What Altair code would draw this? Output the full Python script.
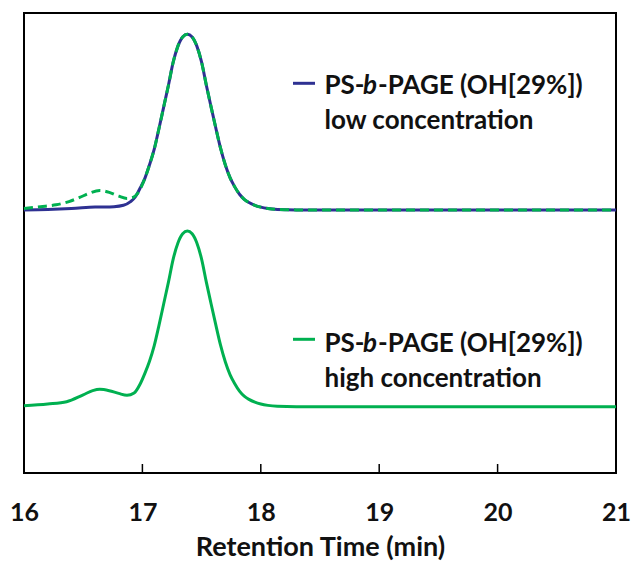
import altair as alt
import pandas as pd

# ---- data ----
low_t = [16.00, 16.20, 16.40, 16.60, 16.76, 16.84, 16.90, 16.94, 16.98, 17.02, 17.06, 17.10,
         17.14, 17.18, 17.22, 17.26, 17.30, 17.34, 17.38, 17.42, 17.46, 17.50, 17.54, 17.58,
         17.62, 17.66, 17.70, 17.74, 17.78, 17.82, 17.86, 17.90, 17.95, 18.00, 18.06, 18.14,
         18.30, 21.00]
low_v = [57.2, 57.3, 57.5, 57.8, 57.9, 58.2, 59.0, 60.0, 61.9, 64.0, 67.0, 70.4,
         74.9, 79.6, 84.3, 89.3, 92.8, 94.8, 95.4, 94.8, 92.8, 89.3, 84.3, 79.6,
         75.0, 70.6, 67.0, 64.2, 62.2, 60.6, 59.5, 58.8, 58.2, 57.8, 57.5, 57.3,
         57.2, 57.2]

dash_t = [16.00, 16.14, 16.27, 16.38, 16.47, 16.55, 16.64, 16.72, 16.80, 16.87, 16.92, 16.96,
          17.02, 17.06, 17.10, 17.14, 17.18, 17.22, 17.26, 17.30, 17.34, 17.38, 17.42, 17.46,
          17.50, 17.54, 17.58, 17.62, 17.66, 17.70, 17.74, 17.78, 17.82, 17.86, 17.90, 17.95,
          18.00, 18.06, 18.14, 18.30, 21.00]
dash_v = [57.5, 57.9, 58.3, 59.0, 59.9, 60.8, 61.4, 61.0, 60.2, 59.7, 59.9, 60.8,
          64.0, 67.0, 70.4, 74.9, 79.6, 84.3, 89.3, 92.8, 94.8, 95.4, 94.8, 92.8,
          89.3, 84.3, 79.6, 75.0, 70.6, 67.0, 64.2, 62.2, 60.6, 59.5, 58.8, 58.2,
          57.8, 57.5, 57.3, 57.2, 57.2]

high_t = [16.00, 16.20, 16.36, 16.50, 16.58, 16.64, 16.72, 16.80, 16.87, 16.93, 16.98, 17.02,
          17.06, 17.10, 17.14, 17.18, 17.22, 17.26, 17.30, 17.34, 17.38, 17.42, 17.46, 17.50,
          17.54, 17.58, 17.62, 17.66, 17.70, 17.74, 17.78, 17.82, 17.86, 17.90, 17.95, 18.00,
          18.06, 18.14, 18.30, 21.00]
high_v = [14.6, 15.0, 15.5, 17.0, 17.9, 18.2, 17.9, 17.3, 16.9, 17.4, 19.3, 21.6,
          24.3, 27.7, 32.1, 36.8, 41.5, 46.5, 50.0, 52.0, 52.6, 52.0, 50.0, 46.5,
          41.5, 36.8, 32.2, 27.8, 24.2, 21.4, 19.4, 17.8, 16.7, 16.0, 15.4, 15.0,
          14.7, 14.5, 14.4, 14.4]

x_ticks = [16, 17, 18, 19, 20, 21]
inner_ticks = [17, 18, 19, 20]
legend_parts = ["PS-", "b", "-PAGE (OH[29%])"]
legend_low = "low concentration"
legend_high = "high concentration"
x_title = "Retention Time (min)"

BLUE = "#2e3192"
GREEN = "#00b050"
FONT = "Lato"
TXT = "#111111"

W, H = 592, 460

df_low = pd.DataFrame({"t": low_t, "v": low_v})
df_dash = pd.DataFrame({"t": dash_t, "v": dash_v})
df_high = pd.DataFrame({"t": high_t, "v": high_v})
df_ticks = pd.DataFrame({"t": inner_ticks})

xs = alt.Scale(domain=[16, 21], nice=False, zero=False)
ys = alt.Scale(domain=[0, 100], nice=False, zero=False)

x_enc = alt.X("t:Q", scale=xs, axis=alt.Axis(
    values=x_ticks, ticks=False, domain=False, grid=False, format="d",
    labelFlush=False, labelOverlap=False,
    labelFont=FONT, labelFontSize=25, labelFontWeight="bold", labelColor=TXT,
    labelPadding=27,
    title=x_title, titleFont=FONT, titleFontSize=27, titleFontWeight="bold",
    titleColor=TXT, titlePadding=9))
y_enc = alt.Y("v:Q", scale=ys, axis=None)

blue_line = alt.Chart(df_low).mark_line(color=BLUE, strokeWidth=3, interpolate="monotone").encode(x=x_enc, y=y_enc)
dash_line = alt.Chart(df_dash).mark_line(color=GREEN, strokeWidth=3, strokeDash=[9, 5],
                                         interpolate="monotone").encode(x="t:Q", y="v:Q")
high_line = alt.Chart(df_high).mark_line(color=GREEN, strokeWidth=3, interpolate="monotone").encode(x="t:Q", y="v:Q")

ticks = alt.Chart(df_ticks).mark_rule(color="black", strokeWidth=1.5).encode(
    x="t:Q", y=alt.value(H), y2=alt.value(H - 9))

one = pd.DataFrame({"a": [0]})
FS = 26


def legend(color, y_line, y_base1, y_base2, line2):
    layers = [
        alt.Chart(one).mark_rule(color=color, strokeWidth=3).encode(
            x=alt.value(269), x2=alt.value(291), y=alt.value(y_line)),
    ]
    xs_parts = [300.5, 339.0, 354.0]
    for txt, xp in zip(legend_parts, xs_parts):
        layers.append(alt.Chart(one).mark_text(
            font=FONT, fontSize=FS, fontWeight="bold",
            fontStyle="italic" if txt == "b" else "normal",
            align="left", baseline="alphabetic", color=TXT).encode(
            x=alt.value(xp), y=alt.value(y_base1), text=alt.value(txt)))
    layers.append(alt.Chart(one).mark_text(
        font=FONT, fontSize=FS, fontWeight="bold", align="left",
        baseline="alphabetic", color=TXT).encode(
        x=alt.value(300.5), y=alt.value(y_base2), text=alt.value(line2)))
    return layers


chart = alt.layer(
    blue_line, dash_line, high_line, ticks,
    *legend(BLUE, 70.3, 80.5, 115.5, legend_low),
    *legend(GREEN, 326.3, 338.5, 373.5, legend_high),
).properties(
    width=W, height=H,
    autosize=alt.AutoSizeParams(type="none"),
    padding={"left": 24, "top": 13, "right": 17, "bottom": 93},
).configure_view(stroke="black", strokeWidth=2)

chart.save("out.html", embed_options={"renderer": "svg", "actions": False})
